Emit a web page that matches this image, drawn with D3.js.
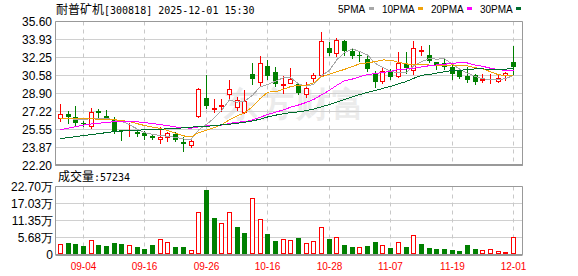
<!DOCTYPE html>
<html lang="zh">
<head>
<meta charset="UTF-8">
<title>耐普矿机 日K线</title>
<script src="https://d3js.org/d3.v7.min.js"></script>
<style>
  body { margin: 0; background: #fff; }
  svg text { font-family: "Liberation Sans", Arial, sans-serif; }
</style>
</head>
<body>
<svg id="kChart" width="578" height="276"></svg>
<script>
// ---- data ----
const stockName = '耐普矿机';
const stockInfo = '[300818] 2025-12-01 15:30';

const dates = ['09-01','09-02','09-03','09-04','09-05','09-08','09-09','09-10','09-11','09-12',
  '09-15','09-16','09-17','09-18','09-19','09-22','09-23','09-24','09-25','09-26',
  '09-29','09-30','10-09','10-10','10-13','10-14','10-15','10-16','10-17','10-20',
  '10-21','10-22','10-23','10-24','10-27','10-28','10-29','10-30','10-31','11-03',
  '11-04','11-05','11-06','11-07','11-10','11-11','11-12','11-13','11-14','11-17',
  '11-18','11-19','11-20','11-21','11-24','11-25','11-26','11-27','11-28','12-01'];

const openP = [26.55,26.92,26.64,26.10,25.81,27.19,26.78,26.48,25.47,25.48,
  25.31,25.15,24.94,24.61,24.84,25.09,24.33,24.10,26.72,28.48,
  27.45,27.70,28.85,27.61,27.10,30.64,29.96,31.41,30.88,29.68,
  29.87,29.71,28.85,30.33,30.55,33.10,32.58,33.78,32.79,32.42,
  32.02,30.64,30.02,30.85,30.48,31.62,31.04,32.82,32.48,31.78,
  31.65,31.35,30.94,30.48,30.55,30.15,30.16,30.02,30.58,31.81];
const highP = [27.87,27.19,27.65,26.30,27.53,27.37,27.35,26.64,25.50,26.10,
  25.47,25.32,25.01,25.72,25.25,25.25,24.79,24.52,29.38,30.58,
  28.33,28.33,30.08,28.55,29.16,31.65,32.33,31.96,31.31,30.48,
  31.19,29.87,29.96,30.79,34.54,33.62,34.02,33.87,33.01,32.79,
  32.33,30.94,31.35,31.16,32.73,32.73,33.78,33.31,33.35,31.80,
  32.02,31.47,31.25,31.35,30.64,30.70,30.70,30.64,30.85,33.31];
const lowP = [26.27,26.08,25.81,25.85,25.62,26.63,26.48,25.16,24.56,24.93,
  24.89,24.64,24.58,24.27,24.42,24.39,23.47,23.87,26.70,27.47,
  27.16,27.25,28.48,27.32,27.04,29.78,29.62,30.18,29.56,28.88,
  29.81,28.79,28.55,30.02,30.48,32.39,32.33,32.48,32.18,31.87,
  30.94,29.50,29.81,30.24,30.42,30.79,30.70,32.48,31.78,31.16,
  31.10,30.24,30.27,29.93,29.78,29.93,29.87,29.93,30.11,30.64];
const closeP = [26.95,26.70,26.08,26.00,27.16,27.04,26.61,25.41,25.38,25.50,
  25.04,24.89,24.70,24.79,25.16,24.55,24.15,24.45,29.31,27.65,
  27.50,27.75,29.31,28.22,28.18,30.18,31.71,30.48,29.70,29.75,
  30.18,28.88,29.41,30.55,33.71,32.64,33.87,32.79,32.30,32.36,
  31.10,29.96,30.94,30.42,31.65,31.19,33.10,32.88,31.87,31.47,
  31.35,30.70,30.39,30.11,29.93,30.21,30.24,30.33,30.79,31.31];
const volume = [33000,36500,33000,26500,46500,30000,26500,36500,33000,28500,
  23000,16500,30000,50000,38500,23000,23000,12000,139000,212000,
  119000,105000,141000,89500,69500,188000,118000,66500,43000,49500,
  46500,53000,36500,43000,88500,49500,56500,30000,23000,23000,
  25500,40000,30000,20000,38500,23000,62000,33000,20000,16500,
  16500,14500,10000,30000,16500,12000,16500,10000,6500,57234];

const ma5 = [26.56,26.56,26.51,26.47,26.58,26.60,26.58,26.44,26.32,25.99,
  25.59,25.24,25.10,24.98,24.92,24.82,24.67,24.62,25.52,26.02,
  26.61,27.33,28.30,28.09,28.19,28.73,29.52,29.75,30.05,30.36,
  30.36,29.80,29.58,29.75,30.55,31.04,32.04,32.71,33.06,32.79,
  32.48,31.70,31.33,30.96,30.81,30.83,31.46,31.85,32.14,32.10,
  32.13,31.65,31.16,30.80,30.50,30.27,30.18,30.16,30.30,30.58];
const ma10 = [26.61,26.59,26.56,26.56,26.54,26.51,26.49,26.47,26.38,26.28,
  26.09,25.91,25.77,25.65,25.45,25.20,24.96,24.86,25.25,25.47,
  25.72,26.00,26.46,26.81,27.11,27.67,28.43,29.03,29.07,29.28,
  29.55,29.66,29.67,29.90,30.46,30.70,30.92,31.15,31.41,31.67,
  31.76,31.87,32.02,32.01,31.80,31.66,31.58,31.59,31.55,31.46,
  31.48,31.56,31.50,31.47,31.30,31.20,30.92,30.66,30.55,30.54];
const ma20 = [25.54,25.68,25.82,25.96,26.07,26.14,26.19,26.28,26.31,26.30,
  26.26,26.19,26.10,26.00,25.91,25.79,25.70,25.68,25.80,25.88,
  25.90,25.96,26.12,26.23,26.28,26.44,26.69,26.95,27.16,27.37,
  27.63,27.83,28.07,28.35,28.78,29.19,29.67,30.09,30.24,30.47,
  30.65,30.76,30.85,30.96,31.13,31.18,31.25,31.37,31.48,31.56,
  31.62,31.71,31.76,31.74,31.55,31.43,31.25,31.13,31.05,31.00];
const ma30 = [24.70,24.80,24.89,24.98,25.07,25.17,25.26,25.35,25.40,25.45,
  25.49,25.52,25.54,25.58,25.61,25.65,25.71,25.77,25.82,25.84,
  25.91,25.98,26.05,26.12,26.23,26.35,26.51,26.72,26.88,27.01,
  27.12,27.19,27.30,27.45,27.67,27.86,28.10,28.35,28.58,28.81,
  29.01,29.18,29.38,29.57,29.79,30.01,30.31,30.59,30.67,30.80,
  30.93,31.03,31.06,31.13,31.19,31.19,31.14,31.13,31.17,31.22];

const priceTicks = [22.20, 23.87, 25.55, 27.22, 28.90, 30.58, 32.25, 33.93, 35.60];
const volTicks = [0, 56750, 113500, 170250, 227000];
const volTickLabels = ['0', '5.68万', '11.35万', '17.03万', '22.70万'];
const dateTicks = ['09-04', '09-16', '09-26', '10-16', '10-28', '11-07', '11-19', '12-01'];
const maNames = ['5PMA', '10PMA', '20PMA', '30PMA'];
const maColors = ['#a8a8a8', '#f0a20a', '#ff00ff', '#006e2e'];

// ---- layout ----
const svg = d3.select('#kChart');
const plotL = 55.5, plotR = 522.5;
const RED = '#ff0000', GREEN = '#008000';
const monoFont = '"DejaVu Sans Mono", monospace';
const cjkFont = '"Noto Sans CJK SC", sans-serif';

const x = d3.scalePoint().domain(dates).range([60, 513]);
const yPrice = d3.scaleLinear().domain([22.20, 35.60]).range([165, 21]);
const yVol = d3.scaleLinear().domain([0, 227000]).range([254, 186]);

const col = d => Math.round(x(d));
const py = v => Math.round(yPrice(v));

const candles = dates.map((d, i) => ({
  date: d, o: openP[i], h: highP[i], l: lowP[i], c: closeP[i], v: volume[i],
  prev: i ? closeP[i - 1] : openP[i]
}));

// title
const title = svg.append('text').attr('x', 56).attr('y', 14).attr('fill', '#000');
title.append('tspan').attr('font-family', cjkFont).attr('font-size', 12).text(stockName);
title.append('tspan').attr('font-family', monoFont).attr('font-size', 10).text(stockInfo);

// legend
let lx = 338;
maNames.forEach((name, i) => {
  const t = svg.append('text').attr('x', lx).attr('y', 12.5)
    .attr('font-family', monoFont).attr('font-size', 10).attr('fill', '#000').text(name);
  const w = t.node().getComputedTextLength();
  svg.append('rect').attr('x', Math.round(lx + w + 3.5)).attr('y', 7)
    .attr('width', 5).attr('height', 3).attr('fill', maColors[i]);
  lx = Math.round(lx + w + 3.5) + 5 + 8;
});

// watermark
svg.append('text').attr('x', 224).attr('y', 116)
  .attr('font-family', cjkFont).attr('font-size', 34).attr('font-weight', 'bold')
  .attr('fill', '#ebebeb').attr('letter-spacing', 2).text('东方财富');

// price grid
svg.append('g').selectAll('line').data(priceTicks).join('line')
  .attr('x1', plotL).attr('x2', plotR)
  .attr('y1', d => py(d) + 0.5).attr('y2', d => py(d) + 0.5)
  .attr('stroke', '#d0d0d0');
svg.append('g').selectAll('text').data(priceTicks).join('text')
  .attr('x', 52).attr('y', d => py(d) + 4.5)
  .attr('text-anchor', 'end').attr('font-size', 12).attr('fill', '#000')
  .text(d => d.toFixed(2));

// volume grid
svg.append('g').selectAll('line').data(volTicks).join('line')
  .attr('x1', plotL).attr('x2', plotR)
  .attr('y1', d => Math.round(yVol(d)) + 0.5).attr('y2', d => Math.round(yVol(d)) + 0.5)
  .attr('stroke', '#d0d0d0');
svg.append('g').selectAll('text').data(volTicks).join('text')
  .attr('x', 53).attr('y', d => Math.round(yVol(d)) + 4.5)
  .attr('text-anchor', 'end').attr('font-size', 12).attr('fill', '#000')
  .text((d, i) => volTickLabels[i]);

// dashed date lines in both panels
[[21.5, 165], [186.5, 254]].forEach(([y0, y1]) => {
  svg.append('g').selectAll('line').data(dateTicks).join('line')
    .attr('x1', d => col(d) + 0.5).attr('x2', d => col(d) + 0.5)
    .attr('y1', y0).attr('y2', y1)
    .attr('stroke', '#c8c8c8').attr('stroke-dasharray', '4,4');
});

// frames
svg.append('path')
  .attr('d', `M${plotL},21.5H${plotR}V165.5H${plotL}Z`)
  .attr('fill', 'none').attr('stroke', '#999');
svg.append('line').attr('x1', plotL).attr('x2', plotR).attr('y1', 165).attr('y2', 165)
  .attr('stroke', '#999').attr('stroke-width', 2);
svg.append('path')
  .attr('d', `M${plotL},186.5H${plotR}V254.5H${plotL}Z`)
  .attr('fill', 'none').attr('stroke', '#999');
svg.append('line').attr('x1', plotL).attr('x2', plotR).attr('y1', 255).attr('y2', 255)
  .attr('stroke', '#999').attr('stroke-width', 2);

// candles
const kG = svg.append('g');
kG.selectAll('line.wick').data(candles).join('line')
  .attr('class', 'wick')
  .attr('x1', d => col(d.date) + 0.5).attr('x2', d => col(d.date) + 0.5)
  .attr('y1', d => py(d.h)).attr('y2', d => py(d.l) + 1)
  .attr('stroke', d => d.c >= d.o ? RED : GREEN);

const upK = candles.filter(d => d.c >= d.o);
const downK = candles.filter(d => d.c < d.o);

kG.selectAll('rect.up').data(upK.filter(d => py(d.o) - py(d.c) >= 1)).join('rect')
  .attr('class', 'up')
  .attr('x', d => col(d.date) - 1.5).attr('width', 4)
  .attr('y', d => py(d.c) + 0.5).attr('height', d => py(d.o) - py(d.c))
  .attr('fill', '#fff').attr('stroke', RED);
kG.selectAll('line.cross').data(upK.filter(d => py(d.o) - py(d.c) < 1)).join('line')
  .attr('class', 'cross')
  .attr('x1', d => col(d.date) - 2).attr('x2', d => col(d.date) + 3)
  .attr('y1', d => py(d.c) + 0.5).attr('y2', d => py(d.c) + 0.5)
  .attr('stroke', RED);
kG.selectAll('rect.down').data(downK).join('rect')
  .attr('class', 'down')
  .attr('x', d => col(d.date) - 2).attr('width', 5)
  .attr('y', d => py(d.o)).attr('height', d => Math.max(1, py(d.c) - py(d.o)))
  .attr('fill', GREEN);

// moving averages
[ma5, ma10, ma20, ma30].forEach((ma, i) => {
  const line = d3.line().x((v, j) => x(dates[j]) + 0.5).y(v => yPrice(v) + 0.5);
  svg.append('path').datum(ma)
    .attr('d', line)
    .attr('fill', 'none').attr('stroke', maColors[i]).attr('stroke-width', 1)
    .attr('shape-rendering', 'crispEdges');
});

// volume
svg.append('text').attr('x', 58).attr('y', 181).attr('fill', '#000')
  .call(t => t.append('tspan').attr('font-family', cjkFont).attr('font-size', 12).text('成交量'))
  .call(t => t.append('tspan').attr('font-family', monoFont).attr('font-size', 10)
    .text(':' + volume[volume.length - 1]));

const vG = svg.append('g');
const vTop = d => Math.round(yVol(d.v));
vG.selectAll('rect.vup').data(candles.filter(d => d.c >= d.prev)).join('rect')
  .attr('class', 'vup')
  .attr('x', d => col(d.date) - 1.5).attr('width', 4)
  .attr('y', d => vTop(d) + 0.5).attr('height', d => 253 - vTop(d))
  .attr('fill', '#fff').attr('stroke', RED);
vG.selectAll('rect.vdown').data(candles.filter(d => d.c < d.prev)).join('rect')
  .attr('class', 'vdown')
  .attr('x', d => col(d.date) - 2).attr('width', 5)
  .attr('y', d => vTop(d)).attr('height', d => 254 - vTop(d))
  .attr('fill', GREEN);

// date labels
svg.append('g').selectAll('text').data(dateTicks).join('text')
  .attr('x', d => col(d) + 0.5).attr('y', 270)
  .attr('text-anchor', 'middle').attr('font-family', monoFont).attr('font-size', 10)
  .attr('fill', RED).text(d => d);
</script>
</body>
</html>
